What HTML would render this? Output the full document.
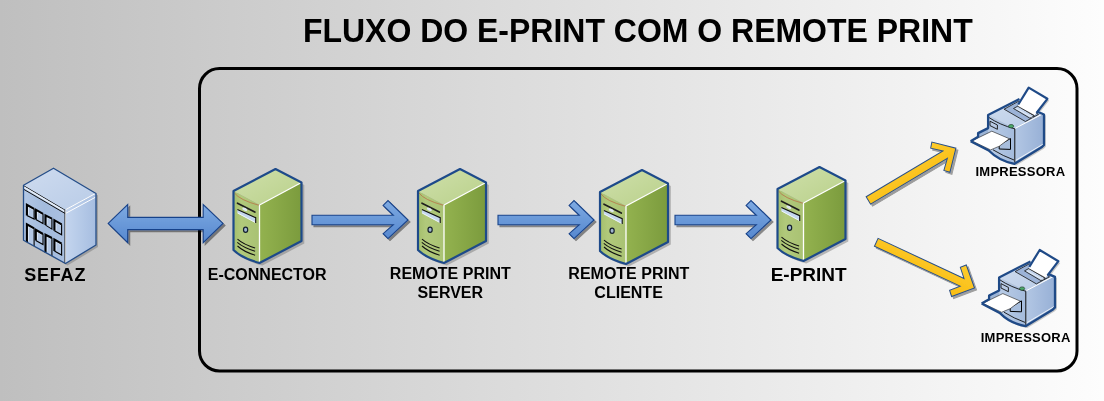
<!DOCTYPE html>
<html><head><meta charset="utf-8">
<style>
html,body{margin:0;padding:0;width:1104px;height:401px;overflow:hidden}
body{background:linear-gradient(to right,#bfbfbf 0%,#fdfdfd 100%)}
svg{position:absolute;left:0;top:0}
text{font-family:"Liberation Sans",sans-serif;font-weight:bold;fill:#000;will-change:transform}
</style></head><body>
<svg width="1104" height="401" viewBox="0 0 1104 401">
<defs>
  <linearGradient id="gBlueArr" x1="0" y1="0" x2="0" y2="1">
    <stop offset="0" stop-color="#7eaae2"/><stop offset="1" stop-color="#5688cf"/>
  </linearGradient>
  <linearGradient id="gYel" x1="0" y1="0" x2="0" y2="1">
    <stop offset="0" stop-color="#fdcb2c"/><stop offset="1" stop-color="#f9bd14"/>
  </linearGradient>
  <filter id="sh" x="-20%" y="-20%" width="140%" height="140%">
    <feGaussianBlur in="SourceAlpha" stdDeviation="0.6"/>
    <feOffset dx="2" dy="2"/>
    <feComponentTransfer><feFuncA type="linear" slope="0.42"/></feComponentTransfer>
    <feMerge><feMergeNode/><feMergeNode in="SourceGraphic"/></feMerge>
  </filter>
  <linearGradient id="gTop" x1="0" y1="0" x2="1" y2="1">
    <stop offset="0" stop-color="#cfe0ab"/><stop offset="1" stop-color="#b9d08a"/>
  </linearGradient>
  <linearGradient id="gFront" x1="0" y1="0" x2="1" y2="0">
    <stop offset="0" stop-color="#a5bf6c"/><stop offset="0.3" stop-color="#b1c97b"/><stop offset="1" stop-color="#a9c273"/>
  </linearGradient>
  <linearGradient id="gSide" x1="0" y1="0" x2="1" y2="0">
    <stop offset="0" stop-color="#93b24f"/><stop offset="1" stop-color="#7b9b3d"/>
  </linearGradient>
  <g id="server">
    <path d="M0,0 L42,-22 L68,-8.5 L68,50 L26,72 Q8,67 0,59 Z" fill="#6a6a6a" opacity="0.42" transform="translate(2.8,2.6)"/>
    <path d="M0,0 L42,-22 L68,-8.5 L26,14 Z" fill="url(#gTop)"/>
    <path d="M0,0 L26,14 L26,72 Q8,67 0,59 Z" fill="url(#gFront)"/>
    <path d="M26,14 L68,-8.5 L68,50 L26,72 Z" fill="url(#gSide)"/>
    <path d="M1,2 Q6,9 25.5,14.3" fill="none" stroke="#b87a4e" stroke-width="0.9"/>
    <path d="M26,14 L68,-8.5 M26,14 L26,72" fill="none" stroke="#fff" stroke-width="1.3"/>
    <!-- front details -->
    <path d="M4,12.2 L21.3,21" stroke="#1e1e1e" stroke-width="1.7" stroke-linecap="round"/>
    
    <path d="M3.9,18.5 L22.2,26.7 L22.2,31.9 L3.9,22.2 Z" fill="#c4d7ee"/>
    <path d="M4.2,22 L22,31.6" stroke="#f4f8fc" stroke-width="0.9"/>
    <ellipse cx="11.3" cy="18.3" rx="2.7" ry="1.4" fill="#dfe8f2" transform="rotate(27 11.3 18.3)"/>
    <path d="M3.9,18.5 L22.2,26.7 L22.2,31.9" fill="none" stroke="#111" stroke-width="1.1"/>
    <ellipse cx="12.1" cy="38.7" rx="2.1" ry="2.6" fill="#9fb5cf" stroke="#15202e" stroke-width="1.2"/>
    <path d="M4,48.1 Q10,53.5 21.6,56.9 M3.8,51.4 Q10,56.8 21.6,60.2 M4,55 Q10,60.6 21.6,64.2" fill="none" stroke="#111" stroke-width="1.05"/>
    <path d="M0,0 L42,-22 L68,-8.5 L68,50 L26,72 Q8,67 0,59 Z" fill="none" stroke="#1d4a8a" stroke-width="2.2" stroke-linejoin="round"/>
  </g>
  <g id="arrowR">
    <path d="M0,-4.75 L81.3,-4.75 L71.1,-14.6 L76,-19.5 L96,0 L76,18.6 L71.1,13.7 L81.3,4.75 L0,4.75 Z" fill="url(#gBlueArr)" stroke="#19438a" stroke-width="1.1"/>
  </g>

  <linearGradient id="bTop" x1="0" y1="0" x2="1" y2="1">
    <stop offset="0" stop-color="#cedbef"/><stop offset="1" stop-color="#b9cce7"/>
  </linearGradient>
  <linearGradient id="bFront" x1="0" y1="0" x2="1" y2="0">
    <stop offset="0" stop-color="#b2c7e5"/><stop offset="0.5" stop-color="#a3bbdd"/><stop offset="1" stop-color="#aac0e0"/>
  </linearGradient>
  <linearGradient id="bSide" x1="0" y1="0" x2="1" y2="0">
    <stop offset="0" stop-color="#c4d5ee"/><stop offset="0.6" stop-color="#b2c7e6"/><stop offset="1" stop-color="#a6bde0"/>
  </linearGradient>
  <linearGradient id="pTop" x1="0" y1="0" x2="1" y2="1">
    <stop offset="0" stop-color="#d0ddef"/><stop offset="1" stop-color="#b8cbe6"/>
  </linearGradient>
  <linearGradient id="pFront" x1="0" y1="0" x2="1" y2="0">
    <stop offset="0" stop-color="#b9cce6"/><stop offset="1" stop-color="#a4bbdc"/>
  </linearGradient>
  <linearGradient id="pSide" x1="0" y1="0" x2="1" y2="0">
    <stop offset="0" stop-color="#b3c7e4"/><stop offset="1" stop-color="#97b0d6"/>
  </linearGradient>
  <filter id="sh2" x="-20%" y="-20%" width="140%" height="140%">
    <feGaussianBlur in="SourceAlpha" stdDeviation="0.5"/>
    <feOffset dx="2.2" dy="2.2"/>
    <feComponentTransfer><feFuncA type="linear" slope="0.36"/></feComponentTransfer>
    <feMerge><feMergeNode/><feMergeNode in="SourceGraphic"/></feMerge>
  </filter>
</defs>

<text x="637.8" y="0" transform="translate(0,41.5) scale(1,1.04)" font-size="32" text-anchor="middle">FLUXO DO E-PRINT COM O REMOTE PRINT</text>

<rect x="199.5" y="68.5" width="877.5" height="302.5" rx="20" ry="20" fill="none" stroke="#000" stroke-width="3"/>

<!-- double arrow -->
<g filter="url(#sh)">
<path d="M108.2,223.4 L127.7,204.5 L127.7,217.4 L203.2,217.4 L203.2,204.5 L223,223.4 L203.2,242.6 L203.2,229.6 L127.7,229.6 L127.7,242.6 Z" fill="url(#gBlueArr)" stroke="#19438a" stroke-width="1.1"/>
</g>

<!-- blue arrows -->
<g filter="url(#sh)">
<use href="#arrowR" transform="translate(312,220)"/>
<use href="#arrowR" transform="translate(498,220)"/>
<use href="#arrowR" transform="translate(675,220)"/>
</g>


<g filter="url(#sh2)">
<g transform="translate(868.3,200.4) rotate(-30.8)">
  <path d="M0,-4.2 L89.4,-4.2 L80.3,-12.9 L84.5,-17.6 L102,0 L84.5,17.6 L80.3,12.9 L89.4,4.4 L0,4.4 Z" fill="url(#gYel)" stroke="#2a5088" stroke-width="1"/>
</g>
<g transform="translate(876.3,242.2) rotate(25)">
  <path d="M0,-4.2 L94.8,-4.2 L86.8,-12.7 L91.2,-17.4 L108.4,0 L91.2,17.4 L86.8,12.7 L94.6,4.4 L0,4.4 Z" fill="url(#gYel)" stroke="#2a5088" stroke-width="1"/>
</g>
</g>
<!-- servers -->
<use href="#server" transform="translate(233.5,191)"/>
<use href="#server" transform="translate(418,191)"/>
<use href="#server" transform="translate(600,192)"/>
<use href="#server" transform="translate(777.5,189)"/>


<!-- SEFAZ building -->
<g transform="translate(23.5,185.2)">
  <path d="M0,0 L30,-17 L72.5,8.3 L72.5,59.8 L42,78.3 L0,55 Z" fill="#666" opacity="0.4" transform="translate(2,2)"/>
  <path d="M0,0 L30,-17 L72.5,8.3 L42,24.8 Z" fill="url(#bTop)"/>
  <path d="M0,0 L42,24.8 L42,78.3 L0,55 Z" fill="url(#bFront)"/>
  <path d="M42,24.8 L72.5,8.3 L72.5,59.8 L42,78.3 Z" fill="url(#bSide)"/>
  <!-- parapet -->
  <path d="M0,0.5 L42,25.3" stroke="#111" stroke-width="1"/>
  <path d="M0.5,2 L41.5,26.3" stroke="#e6eef8" stroke-width="1.6"/>
  <path d="M0,4 L42,28.5" stroke="#111" stroke-width="1"/>
  <path d="M42.5,24.3 L72,8.3" stroke="#fff" stroke-width="1"/>
  <path d="M42.5,28 L72,12" stroke="#fff" stroke-width="1"/>
  <path d="M42,24.8 L42,78.3" stroke="#fff" stroke-width="0.8"/>
  <path d="M41.3,24.8 L41.3,78" stroke="#222" stroke-width="0.8"/>
  <!-- windows -->
  <path d="M3.4,19.7 L10.6,23.7 L10.6,33.9 L3.4,30.2 Z" fill="#b3c7e4"/>
  <path d="M5.0,29.2 L5.0,21.7 L10.2,25.099999999999998" fill="none" stroke="#e2ebf7" stroke-width="0.9"/>
  <path d="M3.4,30.2 L3.4,19.7 L10.6,23.7" fill="none" stroke="#000" stroke-width="2.1"/>
  <path d="M10.6,23.7 L10.6,33.9 L3.4,30.2" fill="none" stroke="#000" stroke-width="1.1"/>
  <path d="M12.3,24.5 L19.5,28.6 L19.5,38.3 L12.3,34.2 Z" fill="#b3c7e4"/>
  <path d="M13.9,33.2 L13.9,26.5 L19.1,30.0" fill="none" stroke="#e2ebf7" stroke-width="0.9"/>
  <path d="M12.3,34.2 L12.3,24.5 L19.5,28.6" fill="none" stroke="#000" stroke-width="2.1"/>
  <path d="M19.5,28.6 L19.5,38.3 L12.3,34.2" fill="none" stroke="#000" stroke-width="1.1"/>
  <path d="M22,30.2 L28.4,33.4 L28.4,43.9 L22,39.9 Z" fill="#b3c7e4"/>
  <path d="M23.6,38.9 L23.6,32.2 L28.0,34.8" fill="none" stroke="#e2ebf7" stroke-width="0.9"/>
  <path d="M22,39.9 L22,30.2 L28.4,33.4" fill="none" stroke="#000" stroke-width="2.1"/>
  <path d="M28.4,33.4 L28.4,43.9 L22,39.9" fill="none" stroke="#000" stroke-width="1.1"/>
  <path d="M30.9,35 L38.1,39.1 L38.1,49.6 L30.9,45.5 Z" fill="#b3c7e4"/>
  <path d="M32.5,44.5 L32.5,37 L37.7,40.5" fill="none" stroke="#e2ebf7" stroke-width="0.9"/>
  <path d="M30.9,45.5 L30.9,35 L38.1,39.1" fill="none" stroke="#000" stroke-width="2.1"/>
  <path d="M38.1,39.1 L38.1,49.6 L30.9,45.5" fill="none" stroke="#000" stroke-width="1.1"/>
  <path d="M3.4,39.1 L10.6,43.1 L10.6,60.9 L3.4,56.9 Z" fill="#b3c7e4"/>
  <path d="M5.0,55.9 L5.0,41.1 L10.2,44.5" fill="none" stroke="#e2ebf7" stroke-width="0.9"/>
  <path d="M3.4,56.9 L3.4,39.1 L10.6,43.1" fill="none" stroke="#000" stroke-width="2.1"/>
  <path d="M10.6,43.1 L10.6,60.9" fill="none" stroke="#000" stroke-width="1.1"/>
  <path d="M12.3,44.7 L19.5,48.8 L19.5,59.3 L12.3,55.3 Z" fill="#b3c7e4"/>
  <path d="M13.9,54.3 L13.9,46.7 L19.1,50.199999999999996" fill="none" stroke="#e2ebf7" stroke-width="0.9"/>
  <path d="M12.3,55.3 L12.3,44.7 L19.5,48.8" fill="none" stroke="#000" stroke-width="2.1"/>
  <path d="M19.5,48.8 L19.5,59.3 L12.3,55.3" fill="none" stroke="#000" stroke-width="1.1"/>
  <path d="M22,49.6 L28.4,52.8 L28.4,70.8 L22,67.2 Z" fill="#b3c7e4"/>
  <path d="M23.6,66.2 L23.6,51.6 L28.0,54.199999999999996" fill="none" stroke="#e2ebf7" stroke-width="0.9"/>
  <path d="M22,67.2 L22,49.6 L28.4,52.8" fill="none" stroke="#000" stroke-width="2.1"/>
  <path d="M28.4,52.8 L28.4,70.8" fill="none" stroke="#000" stroke-width="1.1"/>
  <path d="M30.9,54.4 L38.1,58.5 L38.1,69.8 L30.9,65.8 Z" fill="#b3c7e4"/>
  <path d="M32.5,64.8 L32.5,56.4 L37.7,59.9" fill="none" stroke="#e2ebf7" stroke-width="0.9"/>
  <path d="M30.9,65.8 L30.9,54.4 L38.1,58.5" fill="none" stroke="#000" stroke-width="2.1"/>
  <path d="M38.1,58.5 L38.1,69.8 L30.9,65.8" fill="none" stroke="#000" stroke-width="1.1"/>
  <path d="M0,0 L30,-17 L72.5,8.3 L72.5,59.8 L42,78.3 L0,55 Z" fill="none" stroke="#244d88" stroke-width="1.3" stroke-linejoin="round"/>
</g>
<text x="55.2" y="280.8" font-size="18" letter-spacing="0.8" text-anchor="middle">SEFAZ</text>
<text x="267.2" y="279.6" font-size="16" text-anchor="middle">E-CONNECTOR</text>
<text x="450.3" y="278.5" font-size="16" text-anchor="middle">REMOTE PRINT</text>
<text x="450.3" y="297.6" font-size="16" text-anchor="middle">SERVER</text>
<text x="628.8" y="278.5" font-size="16" text-anchor="middle">REMOTE PRINT</text>
<text x="628.6" y="297.6" font-size="16" text-anchor="middle">CLIENTE</text>
<text x="808.7" y="281.3" font-size="19" text-anchor="middle">E-PRINT</text>

<g id="printer">
  <path d="M970.6,141.2 L978.1,136.8 L978.1,133.1 L988.1,128.1 L988.1,115 L1018.7,100.1 L1028.7,87.6 L1047.4,98.8 L1038,110.7 L1044,113.8 L1044,145 L1042,147 L1014.5,163.8 Q999,161 988.7,150.5 Z" fill="#666" opacity="0.35" transform="translate(1.8,1.8)"/>
  <!-- tray -->
  <path d="M970.6,141.2 L978.1,136.8 L978.1,133.1 L988.1,128.1 L1000,134 L1000,150 L988.7,150.5 Z" fill="#9cb4d6"/>
  <!-- body top -->
  <path d="M988.1,115 L1018.7,99.5 L1044,113.5 L1015,128.7 Z" fill="url(#pTop)"/>
  <!-- front -->
  <path d="M988.1,115 L1015,128.7 L1014.5,163.8 Q999,160 988.1,149 Z" fill="url(#pFront)"/>
  <!-- side -->
  <path d="M1015,128.7 L1044,113.5 L1044,145 L1014.5,163.8 Z" fill="url(#pSide)"/>
  <path d="M1015.5,128.2 L1043.5,113.5" stroke="#fff" stroke-width="1"/>
  <path d="M1015.5,160.5 L1043,144.2" stroke="#fff" stroke-width="0.8"/>
  <!-- slot top -->
  <path d="M1004.1,109.2 L1018.3,101.4 L1038.5,114.4 L1025.4,121.5 Z" fill="#9cb3d7" stroke="#111" stroke-width="0.8"/>
  <path d="M1013.5,108.5 L1018,106 L1034.4,115.9 L1029.9,118.2 Z" fill="#c3d4ec" stroke="#111" stroke-width="0.8"/>
  <path d="M1016,108.5 L1032.5,117.5" stroke="#eef3fa" stroke-width="0.7"/>
  <!-- paper out -->
  <path d="M1017.6,106.2 L1028.7,87.6 L1047.4,98.8 L1034.4,115.5 Z" fill="#fff"/>
  <path d="M1017.6,106.2 L1034.4,115.5" stroke="#111" stroke-width="0.7"/>
  <path d="M1018.3,104.5 L1028.7,87.6 L1047.4,98.8 L1036.5,113" fill="none" stroke="#1f4a87" stroke-width="2.2" stroke-linejoin="round"/>
  <!-- front panel -->
  <path d="M988.1,117 Q1000,125 1015,128.9" fill="none" stroke="#111" stroke-width="0.9"/>
  <path d="M990,121.2 L997.4,125 L997.4,129.3 L990,125.6 Z" fill="#b8cae4" stroke="#111" stroke-width="0.9"/>
  <ellipse cx="1011.1" cy="126.2" rx="2.6" ry="1.7" fill="#4caa6a" stroke="#1f3f2a" stroke-width="0.7"/>
  <!-- output slot -->
  <path d="M999.2,145 L1010.5,138.5 L1010.5,149.4 L999.2,149 Z" fill="#a8bedd" stroke="#000" stroke-width="1"/>
  <!-- tray paper -->
  <path d="M971.9,140.9 L991.8,131.2 L1009.3,138.7 L999.3,146.2 L990.6,149.9 Z" fill="#fff" stroke="#1a1a1a" stroke-width="0.6"/>
  <path d="M993,149.8 Q1003,156 1014,160" fill="none" stroke="#111" stroke-width="0.9"/>
  <path d="M1014.8,129 L1014.8,162.5" stroke="#111" stroke-width="1"/>
  <!-- outline -->
  <path d="M970.6,141.2 L978.1,136.8 L978.1,133.1 L988.1,128.1 L988.1,115 L1019.5,99 M1036.8,111.5 L1044,114.5 L1044,145 L1042,147 L1014.5,163.8 Q999,161 988.7,150.5 L970.6,141.2" fill="none" stroke="#1f4a87" stroke-width="2.3" stroke-linejoin="round"/>
</g>
<use href="#printer" transform="translate(11,162.4)"/>
<text x="1020.4" y="176.3" font-size="13" letter-spacing="0.25" text-anchor="middle">IMPRESSORA</text>
<text x="1025.7" y="342.4" font-size="13" letter-spacing="0.25" text-anchor="middle">IMPRESSORA</text>
</svg>
</body></html>
